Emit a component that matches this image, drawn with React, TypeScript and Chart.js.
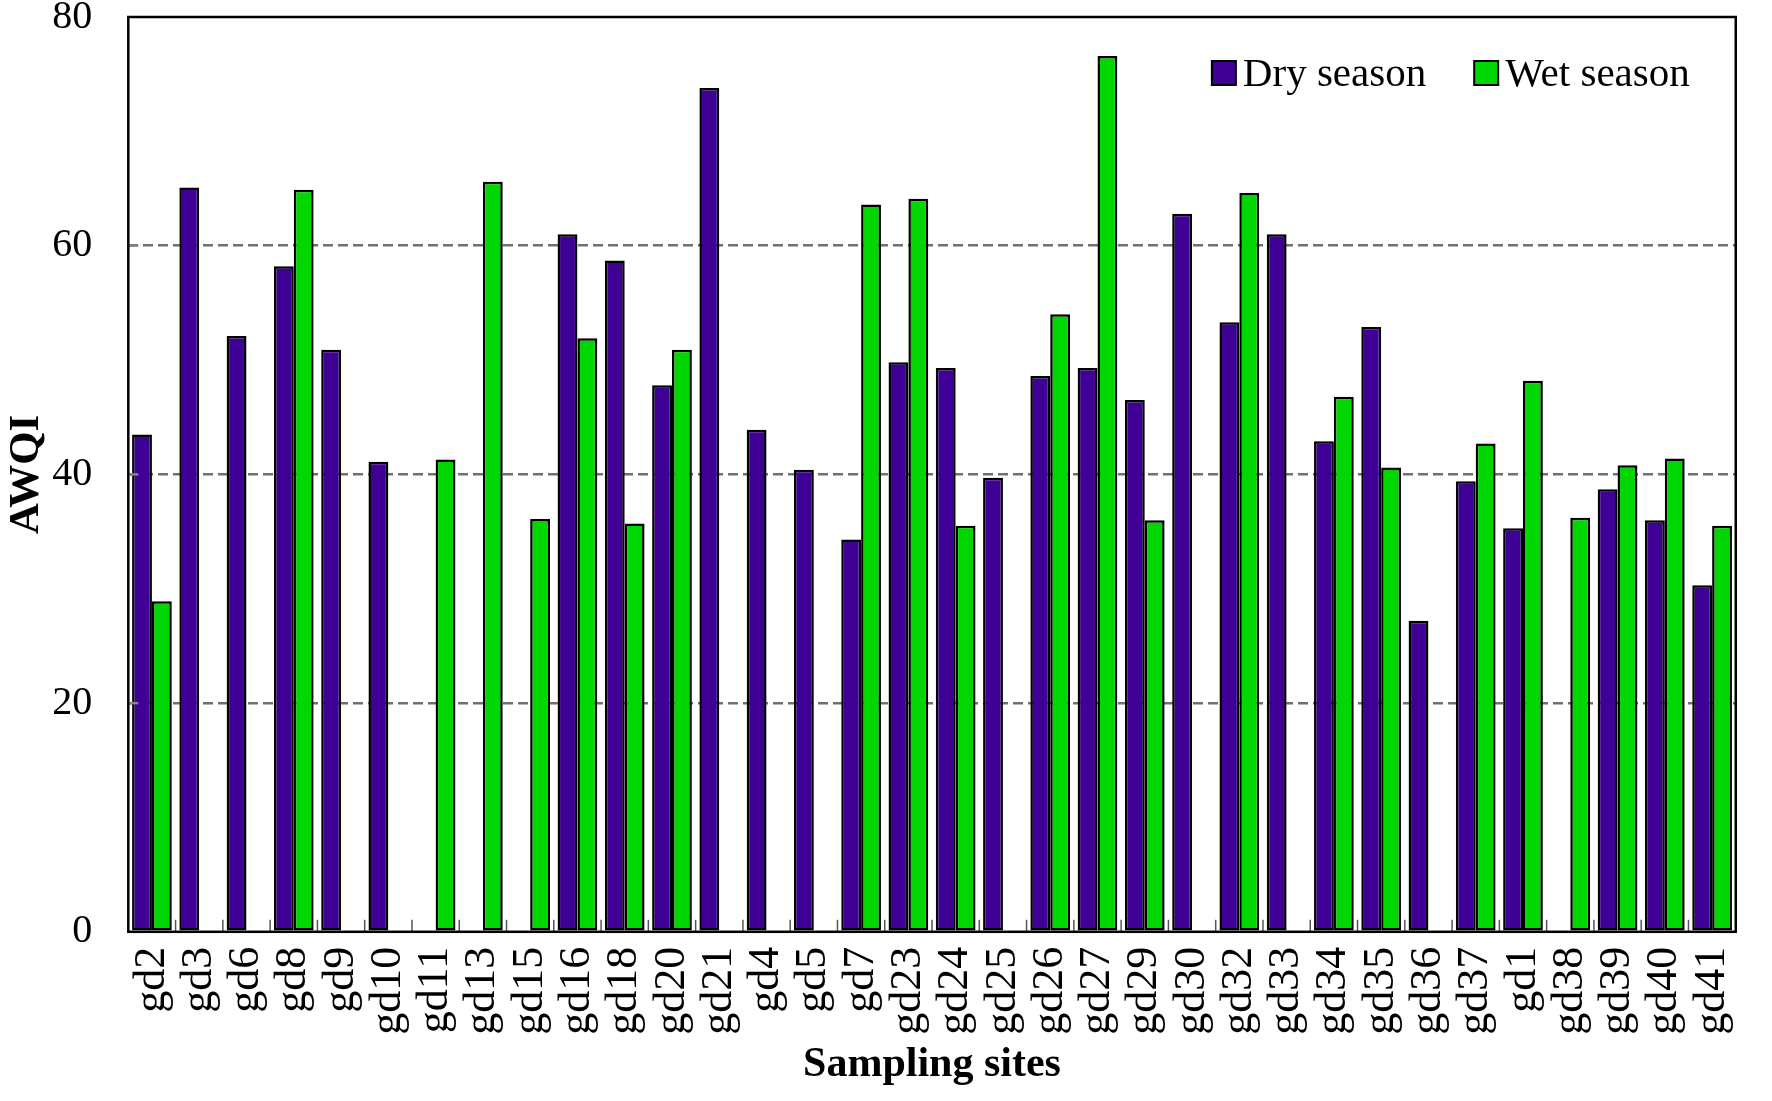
import React, { useEffect, useRef } from 'react';
import { Chart, registerables, Plugin } from 'chart.js';

Chart.register(...registerables);

const sites = [
    'gd2', 'gd3', 'gd6', 'gd8', 'gd9', 'gd10', 'gd11', 'gd13', 'gd15', 'gd16', 'gd18', 'gd20',
    'gd21', 'gd4', 'gd5', 'gd7', 'gd23', 'gd24', 'gd25', 'gd26', 'gd27', 'gd29', 'gd30', 'gd32',
    'gd33', 'gd34', 'gd35', 'gd36', 'gd37', 'gd1', 'gd38', 'gd39', 'gd40', 'gd41',
];

const drySeason = [
    43.5, 65.1, 52.1, 58.2, 50.9, 41.1, null, null, null, 61.0, 58.7, 47.8,
    73.8, 43.9, 40.4, 34.3, 49.8, 49.3, 39.7, 48.6, 49.3, 46.5, 62.8, 53.3,
    61.0, 42.9, 52.9, 27.2, 39.4, 35.3, null, 38.7, 36.0, 30.3,
];

const wetSeason = [
    28.9, null, null, 64.9, null, null, 41.3, 65.6, 36.1, 51.9, 35.7, 50.9,
    null, null, null, 63.6, 64.1, 35.5, null, 54.0, 76.6, 36.0, null, 64.6,
    null, 46.8, 40.6, null, 42.7, 48.2, 36.2, 40.8, 41.4, 35.5,
];

const seriesNames = ['Dry season', 'Wet season'];
const dryColor = '#3f0096';
const wetColor = '#00d600';
const gridValues = [20, 40, 60];

const FONT = '"Liberation Serif", "Times New Roman", serif';

// frame, inward ticks and the legend inside the plot area
const framePlugin: Plugin<'bar'> = {
    id: 'frame',
    afterDatasetsDraw(chart) {
        const { ctx, chartArea: a, scales } = chart;
        const x = scales.x;
        const y = scales.y;
        ctx.save();

        // small ticks between categories, pointing up
        ctx.strokeStyle = '#555';
        ctx.lineWidth = 1.5;
        for (let i = 1; i < sites.length; i++) {
            const px = (x.getPixelForValue(i - 1) + x.getPixelForValue(i)) / 2;
            ctx.beginPath();
            ctx.moveTo(px, a.bottom);
            ctx.lineTo(px, a.bottom - 12);
            ctx.stroke();
        }

        // small ticks on the y axis
        ctx.strokeStyle = '#888';
        ctx.lineWidth = 2.5;
        gridValues.forEach((v) => {
            const py = y.getPixelForValue(v);
            ctx.beginPath();
            ctx.moveTo(a.left, py);
            ctx.lineTo(a.left + 10, py);
            ctx.stroke();
        });

        ctx.strokeStyle = '#000';
        ctx.lineWidth = 2.5;
        ctx.strokeRect(a.left, a.top, a.right - a.left, a.bottom - a.top);

        // legend
        ctx.font = `41px ${FONT}`;
        ctx.textBaseline = 'middle';
        ctx.textAlign = 'left';
        const cy = a.top + 56;
        const box = 24;
        const wetW = ctx.measureText(seriesNames[1]).width;
        const dryW = ctx.measureText(seriesNames[0]).width;
        const wetTextX = a.right - 46 - wetW;
        const wetBoxX = wetTextX - 7 - box;
        const dryTextX = wetBoxX - 48 - dryW;
        const dryBoxX = dryTextX - 7 - box;

        [
            { bx: dryBoxX, tx: dryTextX, color: dryColor, name: seriesNames[0] },
            { bx: wetBoxX, tx: wetTextX, color: wetColor, name: seriesNames[1] },
        ].forEach((it) => {
            ctx.fillStyle = it.color;
            ctx.fillRect(it.bx, cy - box / 2, box, box);
            ctx.strokeStyle = '#000';
            ctx.lineWidth = 2;
            ctx.strokeRect(it.bx, cy - box / 2, box, box);
            ctx.fillStyle = '#000';
            ctx.fillText(it.name, it.tx, cy + 2);
        });

        ctx.restore();
    },
};

const App: React.FC = () => {
    const canvas = useRef<HTMLCanvasElement>(null);

    useEffect(() => {
        document.body.style.margin = '0';
        const ctx = canvas.current;
        if (!ctx) return;

        const chart = new Chart(ctx, {
            type: 'bar',
            data: {
                labels: sites,
                datasets: [
                    {
                        label: seriesNames[0],
                        data: drySeason,
                        backgroundColor: dryColor,
                        borderColor: '#000',
                        borderWidth: 2.5,
                        borderSkipped: false,
                        categoryPercentage: 0.84,
                        barPercentage: 1,
                    },
                    {
                        label: seriesNames[1],
                        data: wetSeason,
                        backgroundColor: wetColor,
                        borderColor: '#000',
                        borderWidth: 2.5,
                        borderSkipped: false,
                        categoryPercentage: 0.84,
                        barPercentage: 1,
                    },
                ],
            },
            options: {
                animation: false,
                responsive: false,
                layout: {
                    padding: { left: 3, top: 0, right: 6, bottom: 13 },
                },
                scales: {
                    x: {
                        grid: { display: false },
                        border: { display: false },
                        ticks: {
                            autoSkip: false,
                            color: '#000',
                            font: { family: FONT, size: 44 },
                            minRotation: 90,
                            maxRotation: 90,
                            padding: 7,
                        },
                        title: {
                            display: true,
                            text: 'Sampling sites',
                            color: '#000',
                            font: { family: FONT, size: 42, weight: 'bold', lineHeight: 1.1 },
                            padding: { top: 0, bottom: 0 },
                        },
                    },
                    y: {
                        min: 0,
                        max: 80,
                        ticks: {
                            stepSize: 20,
                            color: '#000',
                            font: { family: FONT, size: 40, lineHeight: 0.75 },
                            padding: 2,
                        },
                        grid: {
                            drawTicks: true,
                            tickLength: 34,
                            tickColor: 'rgba(0,0,0,0)',
                            lineWidth: 2.5,
                            color: (c) => (gridValues.includes(c.tick?.value) ? '#707070' : 'rgba(0,0,0,0)'),
                        },
                        border: { display: false, dash: [10, 5] },
                        title: {
                            display: true,
                            text: 'AWQI',
                            color: '#000',
                            font: { family: FONT, size: 43, weight: 'bold', lineHeight: 1.1 },
                            padding: { top: 0, bottom: 0 },
                        },
                    },
                },
                plugins: {
                    legend: { display: false },
                    tooltip: { enabled: false },
                },
            },
            plugins: [framePlugin],
        });
        return () => chart.destroy();
    });

    return <canvas ref={canvas} width={1772} height={1101} style={{ display: 'block' }}></canvas>;
};

export default App;
